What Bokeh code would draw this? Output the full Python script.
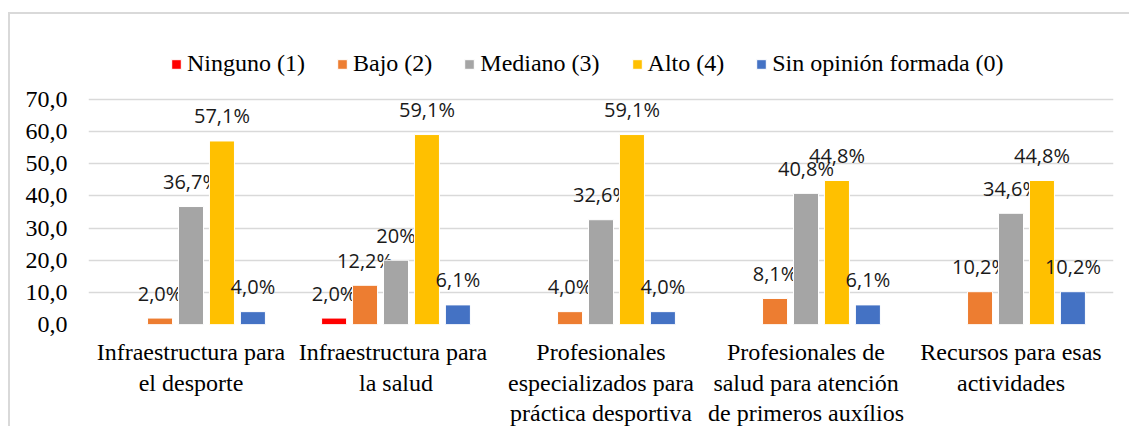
from bokeh.plotting import figure
from bokeh.models import (ColumnDataSource, FactorRange, Range1d, FixedTicker, Legend,
                          LegendItem, CategoricalAxis)
from bokeh.transform import dodge
from bokeh.core.properties import value
from bokeh.embed import file_html
from bokeh.resources import INLINE

categories = [
    "Infraestructura para el desporte",
    "Infraestructura para la salud",
    "Profesionales especializados para práctica desportiva",
    "Profesionales de salud para atención de primeros auxílios",
    "Recursos para esas actividades",
]
# wrapped category label lines (trailing spaces only keep factors unique)
label_line1 = ["Infraestructura para", "Infraestructura para ", "Profesionales",
               "Profesionales de", "Recursos para esas"]
label_line2 = ["el desporte", "la salud", "especializados para",
               "salud para atención", "actividades"]
label_line3 = [" ", "  ", "práctica desportiva", "de primeros auxílios", "   "]
series_names = ["Ninguno (1)", "Bajo (2)", "Mediano (3)", "Alto (4)", "Sin opinión formada (0)"]
ninguno = [0.0, 2.0, 0.0, 0.0, 0.0]
bajo = [2.0, 12.2, 4.0, 8.1, 10.2]
mediano = [36.7, 20.0, 32.6, 40.8, 34.6]
alto = [57.1, 59.1, 59.1, 44.8, 44.8]
sin_opinion = [4.0, 6.1, 4.0, 6.1, 10.2]
ninguno_lbl = ["", "2,0%", "", "", ""]
bajo_lbl = ["2,0%", "12,2%", "4,0%", "8,1%", "10,2%"]
mediano_lbl = ["36,7%", "20%", "32,6%", "40,8%", "34,6%"]
alto_lbl = ["57,1%", "59,1%", "59,1%", "44,8%", "44,8%"]
sin_opinion_lbl = ["4,0%", "6,1%", "4,0%", "6,1%", "10,2%"]
y_ticks = [0, 10, 20, 30, 40, 50, 60, 70]
y_tick_labels = ["0,0", "10,0", "20,0", "30,0", "40,0", "50,0", "60,0", "70,0"]

colors = ["#FF0000", "#ED7D31", "#A5A5A5", "#FFC000", "#4472C4"]
all_values = [ninguno, bajo, mediano, alto, sin_opinion]
all_labels = [ninguno_lbl, bajo_lbl, mediano_lbl, alto_lbl, sin_opinion_lbl]
offsets = [-0.302, -0.151, 0.0, 0.151, 0.302]

SERIF = "Liberation Serif"
SANS = "Open Sans"

p = figure(x_range=FactorRange(*categories, range_padding=0),
           y_range=Range1d(0, 96.45),
           width=1121, height=414, output_backend="svg", toolbar_location=None,
           min_border_left=78, min_border_right=18, min_border_top=0, min_border_bottom=104)
p.styles = {"margin-left": "8px", "margin-top": "12px",
            "border-left": "2px solid #d9d9d9", "border-top": "2px solid #d9d9d9"}
p.outline_line_color = None
p.background_fill_color = "white"
p.border_fill_color = "white"

legend_items = []
for name, vals, lbls, col, off in zip(series_names, all_values, all_labels, colors, offsets):
    src = ColumnDataSource(dict(cat=categories, val=vals))
    r = p.vbar(x=dodge("cat", off, range=p.x_range), top="val", width=0.122, source=src,
               fill_color=col, line_color="white", line_width=1)
    legend_items.append(LegendItem(label=name, renderers=[r]))
    keep = [i for i, v in enumerate(vals) if v > 0]
    lsrc = ColumnDataSource(dict(cat=[categories[i] for i in keep],
                                 val=[vals[i] for i in keep],
                                 txt=[lbls[i] for i in keep]))
    p.text(x=dodge("cat", off, range=p.x_range), y="val", text="txt", source=lsrc,
           text_font=value(SANS), text_font_size="20px", text_color="#1a1a1a",
           text_align="center", text_baseline="middle", y_offset=-25)

legend = Legend(items=legend_items, orientation="horizontal", location=(82, 247),
                glyph_width=12, glyph_height=12, label_standoff=5, spacing=31,
                padding=0, margin=0, border_line_color=None, background_fill_alpha=0,
                label_text_font=SERIF, label_text_font_size="24px", label_text_color="black")
p.add_layout(legend)

p.yaxis.ticker = FixedTicker(ticks=y_ticks)
p.yaxis.major_label_overrides = {t: l for t, l in zip(y_ticks, y_tick_labels)}
p.yaxis.axis_line_color = None
p.yaxis.major_tick_line_color = None
p.yaxis.minor_tick_line_color = None
p.yaxis.major_label_text_font = SERIF
p.yaxis.major_label_text_font_size = "24px"
p.yaxis.major_label_text_color = "black"
p.yaxis.major_label_standoff = 15

p.xaxis.visible = False

# category labels: one categorical axis per wrapped line, stacked below the plot
for name, lines, standoff in (("l1", label_line1, 14), ("l2", label_line2, 2),
                              ("l3", label_line3, 1)):
    p.extra_x_ranges[name] = FactorRange(*lines, range_padding=0)
    ax = CategoricalAxis(x_range_name=name, axis_line_color=None,
                         major_tick_line_color=None, minor_tick_line_color=None,
                         major_tick_out=0, major_tick_in=0,
                         major_label_standoff=standoff,
                         major_label_text_font=SERIF, major_label_text_font_size="24px",
                         major_label_text_color="black")
    p.add_layout(ax, "below")

p.xgrid.grid_line_color = None
p.ygrid.grid_line_color = "#d9d9d9"
p.ygrid.grid_line_width = 1.5

open("out.html", "w").write(file_html(p, INLINE))
